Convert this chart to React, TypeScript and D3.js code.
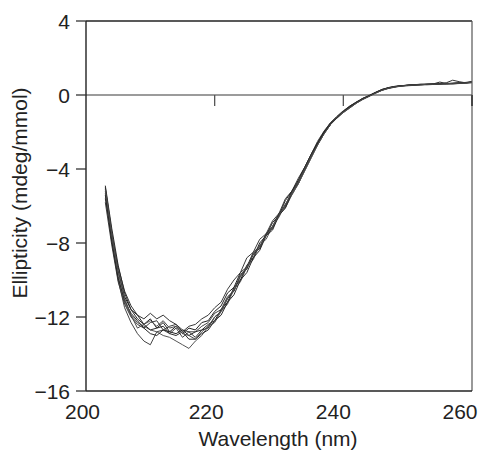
import React from "react";
import * as d3 from "d3";

const wavelengths = [
  203, 204, 205, 206, 207, 208, 209, 210, 211, 212,
  213, 214, 215, 216, 217, 218, 219, 220, 221, 222,
  223, 224, 225, 226, 227, 228, 229, 230, 231, 232,
  233, 234, 235, 236, 237, 238, 239, 240, 241, 242,
  243, 244, 245, 246, 247, 248, 249, 250, 251, 252,
  253, 254, 255, 256, 257, 258, 259, 260,
];

const run1 = [
  -5.0, -7.4, -9.5, -10.9, -11.6, -11.9, -12.4, -12.1, -12.6, -12.3,
  -12.8, -12.5, -12.9, -12.6, -12.7, -12.3, -12.2, -11.7, -11.4, -10.7,
  -10.4, -9.6, -9.3, -8.5, -8.2, -7.5, -7.2, -6.4, -6.0, -5.2,
  -4.7, -4.0, -3.3, -2.6, -2.0, -1.5, -1.2, -0.9, -0.6, -0.4,
  -0.2, -0.05, 0.12, 0.27, 0.37, 0.45, 0.5, 0.52, 0.55, 0.56,
  0.57, 0.58, 0.6, 0.59, 0.62, 0.64, 0.66, 0.7,
];
const run2 = [
  -5.3, -7.9, -10.0, -11.5, -12.3, -12.9, -13.3, -13.5, -12.8, -12.7,
  -12.9, -12.6, -13.1, -12.8, -12.8, -12.5, -12.3, -11.8, -11.6, -10.9,
  -10.6, -9.7, -9.4, -8.6, -8.3, -7.6, -7.2, -6.5, -6.1, -5.4,
  -4.8, -4.1, -3.4, -2.7, -2.1, -1.6, -1.25, -0.95, -0.7, -0.45,
  -0.25, -0.08, 0.1, 0.25, 0.35, 0.42, 0.48, 0.5, 0.52, 0.55,
  0.55, 0.57, 0.58, 0.6, 0.6, 0.62, 0.63, 0.66,
];
const run3 = [
  -5.6, -7.6, -9.3, -10.6, -11.4, -11.9, -12.1, -11.8, -12.1, -11.9,
  -12.2, -12.4, -12.7, -12.8, -13.1, -12.7, -12.6, -12.0, -11.7, -11.0,
  -10.6, -9.8, -9.4, -8.6, -8.3, -7.5, -7.1, -6.4, -6.0, -5.2,
  -4.8, -4.0, -3.3, -2.6, -2.0, -1.55, -1.2, -0.9, -0.65, -0.4,
  -0.2, -0.05, 0.12, 0.28, 0.4, 0.46, 0.5, 0.54, 0.56, 0.57,
  0.58, 0.6, 0.6, 0.66, 0.8, 0.72, 0.66, 0.7,
];
const run4 = [
  -5.2, -7.7, -9.8, -11.2, -11.9, -12.3, -12.5, -12.7, -12.8, -13.0,
  -13.1, -13.3, -13.5, -13.7, -13.3, -13.0, -12.5, -12.3, -11.7, -11.3,
  -10.5, -10.1, -9.3, -8.9, -8.1, -7.8, -7.1, -6.6, -5.9, -5.4,
  -4.8, -4.1, -3.4, -2.7, -2.1, -1.6, -1.25, -0.95, -0.7, -0.45,
  -0.22, -0.06, 0.1, 0.26, 0.36, 0.44, 0.5, 0.53, 0.55, 0.58,
  0.57, 0.6, 0.62, 0.6, 0.63, 0.64, 0.65, 0.68,
];
const run5 = [
  -4.9, -7.2, -9.2, -10.7, -11.6, -12.1, -12.4, -12.7, -12.6, -12.5,
  -12.9, -13.0, -12.8, -13.2, -13.2, -12.9, -12.7, -12.2, -11.9, -11.2,
  -10.8, -10.0, -9.6, -8.8, -8.4, -7.6, -7.3, -6.5, -6.1, -5.3,
  -4.7, -4.0, -3.3, -2.6, -2.05, -1.6, -1.25, -0.9, -0.65, -0.42,
  -0.2, -0.05, 0.13, 0.3, 0.4, 0.47, 0.5, 0.52, 0.56, 0.58,
  0.59, 0.6, 0.7, 0.62, 0.64, 0.66, 0.68, 0.72,
];
const run6 = [
  -5.8, -8.1, -10.1, -11.3, -12.0, -12.4, -12.6, -12.3, -12.2, -12.7,
  -12.5, -12.4, -12.8, -12.5, -12.4, -12.1, -11.9, -11.5, -11.2, -10.5,
  -10.0, -9.6, -8.8, -8.5, -7.8, -7.5, -6.8, -6.4, -5.6, -5.2,
  -4.5, -3.9, -3.2, -2.5, -1.95, -1.5, -1.15, -0.85, -0.6, -0.38,
  -0.18, -0.02, 0.15, 0.3, 0.38, 0.44, 0.5, 0.51, 0.54, 0.55,
  0.58, 0.57, 0.6, 0.62, 0.6, 0.63, 0.66, 0.7,
];
const run7 = [
  -5.4, -7.9, -9.9, -11.1, -11.8, -12.2, -12.6, -12.9, -13.0, -12.7,
  -12.8, -12.9, -12.7, -13.0, -12.8, -12.7, -12.4, -12.2, -11.6, -11.2,
  -10.4, -10.0, -9.2, -8.8, -8.0, -7.6, -6.9, -6.5, -5.7, -5.2,
  -4.6, -3.9, -3.2, -2.6, -2.0, -1.55, -1.2, -0.88, -0.62, -0.4,
  -0.2, -0.04, 0.13, 0.28, 0.38, 0.45, 0.49, 0.53, 0.54, 0.56,
  0.57, 0.59, 0.61, 0.63, 0.62, 0.65, 0.67, 0.7,
];
const run8 = [
  -5.1, -7.5, -9.6, -11.0, -11.9, -12.6, -12.4, -12.2, -12.5, -12.2,
  -12.6, -12.5, -12.9, -13.0, -13.2, -12.8, -12.5, -12.0, -11.7, -11.0,
  -10.5, -9.8, -9.3, -8.6, -8.2, -7.6, -7.1, -6.5, -5.9, -5.3,
  -4.7, -4.0, -3.3, -2.7, -2.1, -1.6, -1.2, -0.92, -0.68, -0.44,
  -0.24, -0.07, 0.1, 0.25, 0.37, 0.44, 0.48, 0.52, 0.54, 0.55,
  0.58, 0.58, 0.6, 0.61, 0.63, 0.64, 0.65, 0.69,
];

const runs = [run1, run2, run3, run4, run5, run6, run7, run8];
const runColors = ["#222", "#444", "#333", "#555", "#2a2a2a", "#3a3a3a", "#262626", "#4a4a4a"];

const xTicks = [200, 220, 240, 260];
const xTickLabelShift = [-3.5, -8.5, -10, -12];
const yTicks = [4, 0, -4, -8, -12, -16];

const W = 491;
const H = 453;
const left = 86;
const right = 472;
const top = 21;
const bottom = 391;
const FONT = "Arial, 'Liberation Sans', Helvetica, sans-serif";

export default function App() {
  const x = d3.scaleLinear().domain([200, 260]).range([left, right]);
  const y = d3.scaleLinear().domain([-16, 4]).range([bottom, top]);
  const line = d3
    .line<[number, number]>()
    .x((d) => x(d[0]))
    .y((d) => y(d[1]));

  const fmt = (v: number) => (v < 0 ? "\u2212" + Math.abs(v) : String(v));

  return (
    <svg
      width={W}
      height={H}
      style={{ position: "absolute", left: 0, top: 0, background: "#fff" }}
    >
      <rect x={0} y={0} width={W} height={H} fill="#fff" />
      <line x1={x(200)} x2={x(260)} y1={y(0)} y2={y(0)} stroke="#7a7a7a" strokeWidth={1.6} />
      {xTicks.slice(1).map((t) => (
        <line
          key={"xt" + t}
          x1={x(t)}
          x2={x(t)}
          y1={y(0)}
          y2={y(0) + 11}
          stroke={t === 260 ? "#333" : "#555"}
          strokeWidth={t === 260 ? 2 : 1.3}
        />
      ))}
      <g fill="none">
        {runs.map((r, i) => (
          <path
            key={i}
            d={line(wavelengths.map((w, j) => [w, r[j]] as [number, number])) || ""}
            stroke={runColors[i]}
            strokeWidth={1}
            strokeLinejoin="round"
          />
        ))}
      </g>
      <line x1={left} x2={right} y1={top} y2={top} stroke="#222" strokeWidth={1.3} />
      <line x1={left} x2={left} y1={top} y2={bottom} stroke="#222" strokeWidth={1.4} />
      <line x1={right} x2={right} y1={top} y2={bottom} stroke="#555" strokeWidth={1.2} />
      <line x1={left} x2={right} y1={bottom} y2={bottom} stroke="#222" strokeWidth={1.3} />
      {yTicks.map((t) => (
        <g key={"yt" + t}>
          <line x1={left - 10} x2={left} y1={y(t)} y2={y(t)} stroke="#333" strokeWidth={1.3} />
          <text
            x={70}
            y={y(t) + 7.5}
            textAnchor="end"
            fontFamily={FONT}
            fontSize={21}
            fill="#222"
          >
            {fmt(t)}
          </text>
        </g>
      ))}
      {xTicks.map((t, i) => (
        <text
          key={"xl" + t}
          x={x(t) + xTickLabelShift[i]}
          y={419}
          textAnchor="middle"
          fontFamily={FONT}
          fontSize={21}
          fill="#222"
        >
          {t}
        </text>
      ))}
      <text
        x={(left + right) / 2 - 1}
        y={446}
        textAnchor="middle"
        fontFamily={FONT}
        fontSize={21}
        fill="#222"
      >
        Wavelength (nm)
      </text>
      <text
        transform={`translate(27, 193) rotate(-90)`}
        textAnchor="middle"
        fontFamily={FONT}
        fontSize={21}
        fill="#222"
      >
        Ellipticity (mdeg/mmol)
      </text>
    </svg>
  );
}
